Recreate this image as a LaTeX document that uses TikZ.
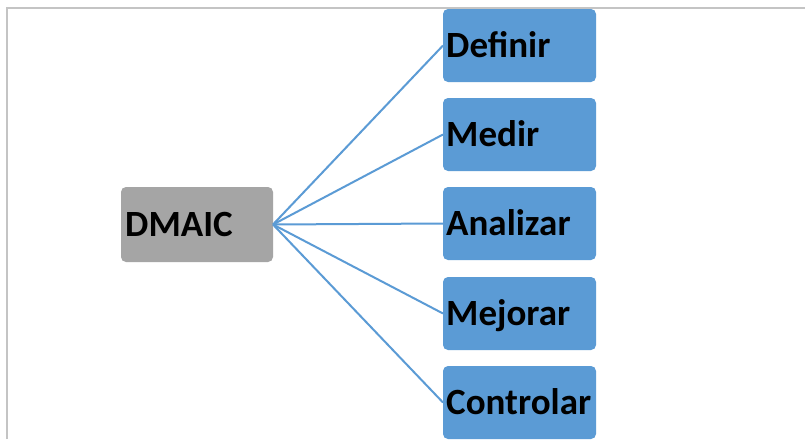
\documentclass[tikz,border=0pt]{standalone}
\usepackage{fontspec}
\setmainfont{Carlito}
\definecolor{boxblue}{HTML}{5B9BD5}
\definecolor{boxgray}{HTML}{A5A5A5}
\definecolor{framegray}{HTML}{C4C4C4}
\begin{document}
\begin{tikzpicture}[x=1pt,y=-1pt,
  bluebox/.style={fill=boxblue, rounded corners=5pt},
  graybox/.style={fill=boxgray, rounded corners=5pt},
  lbl/.style={anchor=base west, inner sep=0pt, font=\bfseries\fontsize{37}{42}\selectfont},
  conn/.style={draw=boxblue, line width=2pt}]
\useasboundingbox (0,0) rectangle (805,439);
\fill[white] (0,0) rectangle (805,439);
% frame
\draw[framegray, line width=1.6pt] (7,439) -- (7,8) -- (805,8);
% central box
\path[graybox] (121,187) rectangle (273,262);
\coordinate (c) at (273,224.5);
\node[lbl] (tc) at (125,236.5) {DMAIC};
% right boxes
\foreach \n/\t/\y in {a/Definir/9, b/Medir/98, d/Analizar/187, e/Mejorar/277, f/Controlar/366}{
  \path[bluebox] (443,\y) rectangle (596,\y+73);
  \coordinate (\n) at (443,\y+36.5);
  \node[lbl] (t\n) at (446,\y+48.5) {\t};
  \draw[conn] (c) -- (\n);
}
\end{tikzpicture}
\end{document}
